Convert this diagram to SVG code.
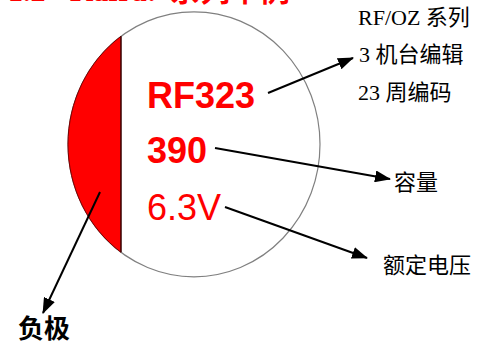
<svg xmlns="http://www.w3.org/2000/svg" width="496" height="345" viewBox="0 0 496 345">
<style>
.title{font-family:"Liberation Serif","Noto Sans CJK SC",serif;font-weight:bold;font-size:30px;fill:#ff0000}
.mark{font-family:"Liberation Sans",Arial,sans-serif;font-size:36px;fill:#ff0000}
.b{font-weight:bold}
.lbl{font-family:"Liberation Serif","Noto Sans CJK SC",serif;font-size:22px;fill:#000}
.neg{font-family:"Noto Sans CJK SC",sans-serif;font-size:26px;font-weight:bold;fill:#000}
.conn{stroke:#000;stroke-width:2;fill:none;marker-end:url(#ah)}
</style>
<defs>
<marker id="ah" viewBox="0 0 16 12" refX="15" refY="6" markerWidth="16" markerHeight="12" orient="auto" markerUnits="userSpaceOnUse">
<path d="M0,0 L16,6 L0,12 z" fill="#000"/>
</marker>
</defs>
<rect width="496" height="345" fill="#fff"/>
<g id="title">
<text class="title" y="1"><tspan x="8">1.2</tspan><tspan x="70">Kafra:</tspan><tspan x="170">系列举例</tspan></text>
</g>
<g id="capacitor">
<ellipse cx="194" cy="144.3" rx="126" ry="132.5" fill="#fff" stroke="#808080" stroke-width="1.2"/>
<path d="M121,36.3 A126,132.5 0 0 0 121,252.3 Z" fill="#ff0000" stroke="none"/>
<path d="M121,36.3 A126,132.5 0 0 0 121,252.3" fill="none" stroke="#7a0000" stroke-width="1"/>
<line x1="121" y1="36.3" x2="121" y2="252.3" stroke="#300" stroke-width="1.5"/>
<text class="mark b" x="147" y="108">RF323</text>
<text class="mark b" x="147" y="163">390</text>
<text class="mark" x="147" y="220">6.3V</text>
</g>
<g id="label-series">
<text class="lbl" x="358" y="25">RF/OZ 系列</text>
<text class="lbl" x="359" y="62">3 机台编辑</text>
<text class="lbl" x="358" y="100">23 周编码</text>
</g>
<g id="label-capacity">
<text class="lbl" x="394" y="190">容量</text>
</g>
<g id="label-voltage">
<text class="lbl" x="383" y="273">额定电压</text>
</g>
<g id="label-negative">
<text class="neg" x="18" y="338">负极</text>
</g>
<g id="connectors">
<line class="conn" x1="268" y1="93" x2="353" y2="58"/>
<line class="conn" x1="215" y1="148" x2="390" y2="179"/>
<line class="conn" x1="225" y1="207" x2="367" y2="258"/>
<line class="conn" x1="100" y1="192" x2="43" y2="313"/>
</g>
</svg>
